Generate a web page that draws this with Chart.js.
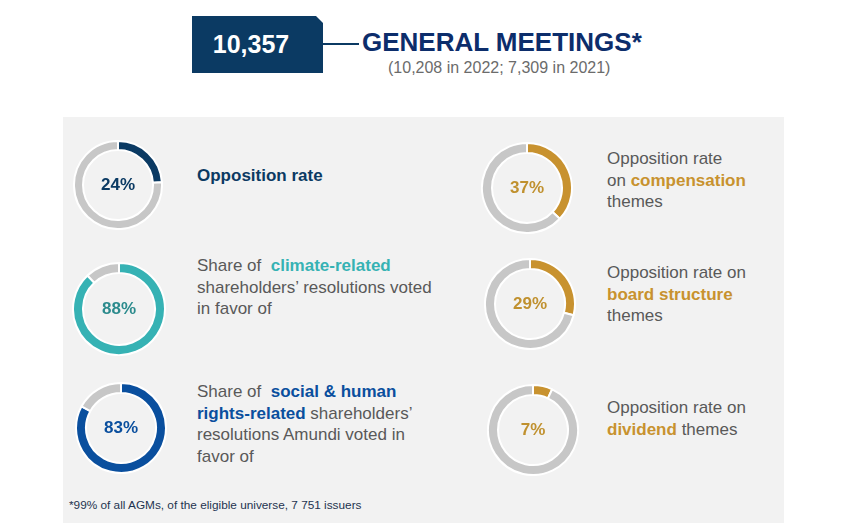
<!DOCTYPE html>
<html>
<head>
<meta charset="utf-8">
<script src="https://cdn.jsdelivr.net/npm/chart.js@4/dist/chart.umd.min.js"></script>
<style>
  html, body { margin: 0; padding: 0; background: #fff; }
  body { width: 850px; height: 523px; position: relative; overflow: hidden; font-family: "Liberation Sans", Arial, sans-serif; }
  .abs { position: absolute; }
  #box { left: 192px; top: 16px; width: 131px; height: 57px; background: #0b3a63;
         clip-path: polygon(0 0, 124px 0, 131px 7px, 131px 100%, 0 100%); }
  #total { left: 192px; top: 16px; width: 118px; height: 57px; line-height: 57px; text-align: center;
           color: #fff; font-weight: bold; font-size: 25px; }
  #connector { left: 323px; top: 43px; width: 36px; height: 1.5px; background: #0b3a63; }
  #title { left: 362px; top: 27px; color: #0c2d6b; font-weight: bold; font-size: 26px; white-space: nowrap; }
  #subtitle { left: 388px; top: 59px; color: #6b6b6b; font-size: 16px; white-space: nowrap; }
  #panel { left: 63px; top: 117px; width: 721px; height: 406px; background: #f2f2f2; }
  .ring { position: absolute; }
  .pct { position: absolute; font-weight: bold; font-size: 17px; text-align: center; }
  .txt { position: absolute; font-size: 17px; line-height: 21.5px; color: #595959; white-space: nowrap; }
  .txt b { font-weight: bold; }
  #note { left: 69px; top: 498px; font-size: 11.8px; color: #1e3450; white-space: nowrap; }
</style>
</head>
<body>
<div id="box" class="abs"></div>
<div id="total" class="abs"></div>
<div id="connector" class="abs"></div>
<div id="title" class="abs">GENERAL MEETINGS*</div>
<div id="subtitle" class="abs"></div>
<div id="panel" class="abs"></div>

<div class="txt" style="left:197px; top:165px;"><b style="color:#0b3a63">Opposition rate</b></div>
<div class="txt" style="left:197px; top:255px;">Share of &nbsp;<b style="color:#36b2b4">climate-related</b><br>shareholders’ resolutions voted<br>in favor of</div>
<div class="txt" style="left:197px; top:381px;">Share of &nbsp;<b style="color:#0a4f9e">social &amp; human</b><br><b style="color:#0a4f9e">rights-related</b> shareholders’<br>resolutions Amundi voted in<br>favor of</div>
<div class="txt" style="left:607px; top:148px;">Opposition rate<br>on <b style="color:#c8922f">compensation</b><br>themes</div>
<div class="txt" style="left:607px; top:262px;">Opposition rate on<br><b style="color:#c8922f">board structure</b><br>themes</div>
<div class="txt" style="left:607px; top:397px;">Opposition rate on<br><b style="color:#c8922f">dividend</b> themes</div>
<div id="note" class="abs">*99% of all AGMs, of the eligible universe, 7 751 issuers</div>

<script>
// chiffres clés
const totalMeetings = 10357;
const previousYears = ["2022", "2021"];
const previousMeetings = [10208, 7309];

// données des anneaux
const ringNames = ["Opposition rate", "Climate-related resolutions supported", "Social & human rights resolutions supported",
                   "Opposition on compensation", "Opposition on board structure", "Opposition on dividend"];
const ringValues = [24, 88, 83, 37, 29, 7];

// mise en page (centre x, centre y, rayon, épaisseur) + couleurs
const ringLayout = [
    [118, 185, 44, 9],
    [119, 309, 46, 10],
    [121, 428, 45, 10],
    [527, 188, 45, 10],
    [530, 304, 45, 10],
    [533, 430, 45, 10]
];
const ringColors = ["#0b3a63", "#36b2b4", "#0a4f9e", "#c8922f", "#c8922f", "#c8922f"];
const labelColors = ["#0b3a63", "#2c8b8d", "#0a4f9e", "#c0912f", "#c0912f", "#c0912f"];
const restColor = "#c7c7c7";

document.getElementById("total").textContent = totalMeetings.toLocaleString("en-US");
document.getElementById("subtitle").textContent =
    "(" + previousMeetings.map((v, i) => v.toLocaleString("en-US") + " in " + previousYears[i]).join("; ") + ")";

ringValues.forEach((v, i) => {
    const [cx, cy, r, w] = ringLayout[i];
    const size = 2 * r + 2;
    const wrap = document.createElement("div");
    wrap.className = "ring";
    wrap.style.left = (cx - size / 2) + "px";
    wrap.style.top = (cy - size / 2) + "px";
    wrap.style.width = size + "px";
    wrap.style.height = size + "px";
    const canvas = document.createElement("canvas");
    wrap.appendChild(canvas);
    document.body.appendChild(wrap);

    new Chart(canvas, {
        type: "doughnut",
        data: {
            labels: [ringNames[i], "Other"],
            datasets: [{
                data: [v, 100 - v],
                backgroundColor: [ringColors[i], restColor],
                borderColor: "#ffffff",
                borderWidth: 2
            }]
        },
        options: {
            responsive: true,
            maintainAspectRatio: false,
            animation: false,
            cutout: r - w,
            plugins: { legend: { display: false }, tooltip: { enabled: false } }
        }
    });

    const lbl = document.createElement("div");
    lbl.className = "pct";
    lbl.style.left = (cx - 40) + "px";
    lbl.style.width = "80px";
    lbl.style.top = (cy - 10) + "px";
    lbl.style.color = labelColors[i];
    lbl.textContent = v + "%";
    document.body.appendChild(lbl);
});
</script>
</body>
</html>
